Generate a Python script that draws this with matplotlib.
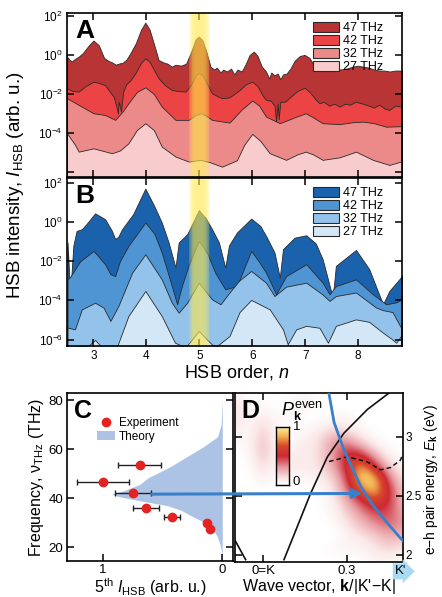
import numpy as np
import matplotlib
matplotlib.use("Agg")
import matplotlib.pyplot as plt
from matplotlib.patches import Patch
from matplotlib.lines import Line2D
from matplotlib.colors import LinearSegmentedColormap

plt.rcParams['font.family'] = ['Liberation Sans', 'DejaVu Sans']
plt.rcParams['mathtext.fontset'] = 'custom'
plt.rcParams['mathtext.rm'] = 'Liberation Sans'
plt.rcParams['mathtext.it'] = 'Liberation Sans:italic'
plt.rcParams['mathtext.bf'] = 'Liberation Sans:bold'
plt.rcParams['axes.linewidth'] = 1.2

# ---- panel A: HSB spectra, log10 intensity vs HSB order ----
a47_n = [2.50, 2.55, 2.59, 2.65, 2.72, 2.80, 2.90, 3.00, 3.10, 3.20, 3.28, 3.35, 3.42, 3.47, 3.55, 3.62,
         3.70, 3.80, 3.90, 3.98, 4.06, 4.15, 4.23, 4.32, 4.40, 4.48, 4.55, 4.65, 4.75, 4.85, 4.93, 4.99,
         5.06, 5.14, 5.21, 5.28, 5.33, 5.40, 5.45, 5.52, 5.60, 5.66, 5.72, 5.80, 5.87, 5.95, 6.03, 6.10,
         6.18, 6.26, 6.32, 6.36, 6.42, 6.48, 6.53, 6.58, 6.65, 6.72, 6.80, 6.90, 6.99, 7.08, 7.16, 7.24,
         7.35, 7.45, 7.55, 7.65, 7.78, 7.90, 8.00, 8.09, 8.20, 8.30, 8.40, 8.50, 8.60, 8.70, 8.83]
a47_v = [-0.09, -0.25, -0.34, -0.2, -0.09, 0.1, 0.45, 0.74, 0.5, -0.15, -0.3, -0.38, -0.5, -0.45, -0.4, -0.25,
         0.1, 0.6, 1.3, 1.66, 1.3, 0.5, -0.26, -0.38, -0.45, -0.6, -0.5, -0.55, -0.45, 0.2, 0.8, 0.94,
         0.75, 0.1, -0.6, -0.75, -0.65, -0.9, -0.75, -0.85, -0.7, -1.0, -0.75, -0.85, -0.5, 0.0, 0.17, -0.05,
         -0.6, -0.85, -1.2, -0.9, -1.05, -0.95, -1.25, -1.0, -0.95, -0.7, -0.3, -0.05, 0.0, -0.15, -0.5, -0.77,
         -0.8, -0.72, -0.8, -0.75, -0.7, -0.6, -0.55, -0.6, -0.65, -0.75, -0.8, -0.8, -0.85, -0.8, -0.8]

a42_n = [2.50, 2.60, 2.72, 2.85, 3.00, 3.12, 3.22, 3.30, 3.38, 3.43, 3.46, 3.48, 3.52, 3.56, 3.62, 3.70,
         3.80, 3.90, 3.98, 4.06, 4.15, 4.23, 4.35, 4.48, 4.60, 4.74, 4.85, 4.93, 4.99, 5.06, 5.15, 5.24,
         5.33, 5.43, 5.50, 5.57, 5.66, 5.76, 5.88, 6.00, 6.10, 6.20, 6.26, 6.35, 6.42, 6.45, 6.48, 6.50,
         6.53, 6.62, 6.70, 6.85, 6.99, 7.10, 7.20, 7.27, 7.35, 7.45, 7.55, 7.65, 7.75, 7.85, 7.95, 8.09,
         8.20, 8.30, 8.40, 8.50, 8.59, 8.70, 8.83]
a42_v = [-1.71, -1.85, -1.88, -1.6, -1.37, -1.45, -1.55, -1.85, -2.14, -2.6, -3.0, -2.4, -2.9, -1.9, -1.5, -1.3,
         -0.9, -0.4, -0.17, -0.35, -0.8, -1.2, -1.55, -1.8, -1.85, -1.88, -1.5, -1.05, -0.91, -1.05, -1.5, -1.97,
         -2.1, -2.22, -2.2, -2.17, -2.0, -1.8, -1.5, -1.37, -1.6, -2.1, -2.3, -2.35, -2.6, -3.4, -2.5, -3.3,
         -2.4, -2.4, -2.2, -1.85, -1.68, -1.95, -2.3, -2.48, -2.4, -2.6, -2.5, -2.65, -2.5, -2.55, -2.4, -2.5,
         -2.6, -2.7, -2.55, -2.75, -2.82, -2.6, -2.65]

a32_n = [2.50, 2.72, 3.00, 3.22, 3.41, 3.55, 3.66, 3.82, 3.98, 4.14, 4.29, 4.55, 4.80, 4.92, 5.02, 5.12,
         5.24, 5.57, 5.80, 6.00, 6.13, 6.26, 6.52, 6.80, 7.01, 7.15, 7.33, 7.65, 7.90, 8.09, 8.30, 8.53, 8.83]
a32_v = [-2.22, -2.56, -2.99, -3.08, -3.33, -2.9, -2.48, -1.9, -1.66, -2.0, -2.65, -3.33, -3.33, -3.1, -2.99, -3.1,
         -3.33, -3.47, -2.8, -2.34, -2.6, -3.16, -3.5, -3.2, -2.99, -3.2, -3.5, -3.55, -3.45, -3.42, -3.5, -3.68, -3.65]

a27_n = [2.50, 2.65, 2.72, 3.00, 3.35, 3.50, 3.66, 3.82, 3.98, 4.14, 4.29, 4.55, 4.80, 5.02, 5.20, 5.43,
         5.71, 5.85, 6.00, 6.15, 6.33, 6.64, 6.85, 7.01, 7.15, 7.33, 7.65, 7.96, 8.28, 8.59, 8.83]
a27_v = [-4.02, -4.6, -4.96, -4.79, -5.04, -4.9, -4.53, -3.85, -3.5, -3.85, -4.7, -5.21, -5.47, -5.38, -5.5, -5.73,
         -5.4, -4.6, -4.05, -4.4, -5.04, -5.38, -5.1, -4.96, -5.1, -5.38, -5.25, -4.96, -5.38, -5.64, -5.45]

# ---- panel B: theory spectra ----
b47_n = [2.51, 2.56, 2.62, 2.68, 2.78, 2.87, 3.03, 3.22, 3.35, 3.41, 3.47, 3.54, 3.75, 3.98, 4.15, 4.29,
         4.42, 4.55, 4.61, 4.77, 4.99, 5.12, 5.24, 5.37, 5.49, 5.56, 5.71, 5.98, 6.15, 6.26, 6.42, 6.52,
         6.58, 6.80, 7.02, 7.20, 7.33, 7.52, 7.58, 7.96, 8.21, 8.47, 8.59, 8.83]
b47_v = [-1.05, -3.69, -1.2, -0.46, -0.37, -0.1, 0.44, 0.14, -0.46, -0.88, -0.75, -0.37, 0.4, 1.7, 0.8, -0.03,
         -1.05, -2.33, -1.05, -0.63, 0.6, 0.2, -0.37, -1.05, -2.33, -1.2, -0.54, 0.17, -0.2, -0.71, -1.56, -2.84,
         -1.39, -0.8, -0.68, -1.1, -1.9, -3.86, -2.24, -1.43, -2.41, -4.2, -3.52, -2.76]

b42_n = [2.51, 2.56, 2.75, 3.00, 3.22, 3.32, 3.41, 3.50, 3.66, 3.98, 4.15, 4.29, 4.48, 4.58, 4.67, 4.80,
         4.99, 5.15, 5.30, 5.49, 5.71, 5.98, 6.12, 6.26, 6.45, 6.64, 7.02, 7.33, 7.46, 7.58, 7.96, 8.28,
         8.53, 8.72, 8.83]
b42_v = [-2.93, -2.8, -2.0, -1.48, -2.16, -2.67, -2.76, -2.0, -1.22, -0.03, -0.6, -1.56, -3.27, -4.2, -3.27, -2.2,
         -0.97, -1.6, -2.59, -3.44, -3.27, -1.48, -2.0, -2.59, -3.69, -2.76, -2.16, -3.1, -3.69, -3.27, -2.93, -3.69,
         -4.2, -4.1, -3.95]

b32_n = [2.51, 2.65, 2.78, 3.03, 3.19, 3.32, 3.47, 3.73, 3.98, 4.29, 4.48, 4.61, 4.77, 4.99, 5.24, 5.40,
         5.57, 5.75, 5.98, 6.26, 6.42, 6.64, 7.02, 7.33, 7.46, 7.58, 7.96, 8.34, 8.47, 8.65, 8.81]
b32_v = [-5.39, -5.48, -4.46, -4.12, -4.37, -5.05, -4.29, -2.59, -1.65, -2.93, -4.12, -4.63, -4.12, -3.1, -3.95, -4.2,
         -3.6, -3.0, -2.5, -3.1, -3.78, -3.3, -3.1, -3.7, -4.03, -3.78, -3.6, -4.37, -4.5, -4.6, -5.39]

b27_n = [2.51, 2.91, 3.03, 3.16, 3.44, 3.66, 3.98, 4.29, 4.54, 4.74, 4.89, 4.99, 5.18, 5.30, 5.57, 5.76,
         5.98, 6.33, 6.58, 6.67, 6.83, 7.02, 7.27, 7.43, 7.58, 7.96, 8.21, 8.47, 8.65, 8.72, 8.81]
b27_v = [-6.4, -6.3, -6.02, -6.4, -6.4, -4.8, -3.52, -4.8, -6.16, -6.4, -5.9, -5.56, -6.1, -6.4, -5.82, -4.6,
         -3.98, -4.46, -5.48, -6.24, -5.48, -5.3, -5.4, -6.16, -5.3, -4.97, -5.1, -5.65, -6.0, -6.16, -5.82]

freq_labels = ['47 THz', '42 THz', '32 THz', '27 THz']
red_colors = ['#b93434', '#ec4444', '#ec8a8a', '#f8cccc']
blue_colors = ['#1b62ad', '#4f94d3', '#93c2ea', '#d3e7f7']

# ---- panel C ----
exp_I = [0.69, 1.00, 0.75, 0.64, 0.42, 0.13, 0.10]
exp_f = [53.3, 46.5, 42.0, 36.0, 32.1, 29.8, 27.2]
exp_err_lo = [0.18, 0.22, 0.15, 0.11, 0.07, 0.02, 0.015]
exp_err_hi = [0.18, 0.22, 0.15, 0.11, 0.07, 0.02, 0.015]
theory_f = [14, 18, 21.3, 24, 26.7, 28.5, 30.8, 33, 34.9, 36.9, 38.9, 40.5, 41.6, 42.9, 45.6, 48.3,
            50, 52.7, 56.8, 60.9, 65, 70, 75, 80]
theory_I = [0, 0.005, 0.02, 0.04, 0.07, 0.12, 0.18, 0.27, 0.34, 0.46, 0.69, 0.86, 0.93, 0.83, 0.69, 0.62,
            0.55, 0.44, 0.30, 0.16, 0.04, 0.01, 0.005, 0]

# ---- panel D ----
pk_k = [-0.1, -0.05, 0, 0.05, 0.1, 0.15, 0.2, 0.25, 0.3, 0.35, 0.4, 0.45, 0.5]
pk_E = [3.35, 3.25, 3.15, 3.05, 2.95, 2.85, 2.75, 2.65, 2.55, 2.45, 2.35, 2.25, 2.15, 2.05, 1.95]
pk = [[0.05, 0, 0, 0, 0, 0.05, 0, 0, 0, 0, 0, 0, 0],
      [0.12, 0.03, 0.03, 0, 0.03, 0.05, 0, 0, 0, 0, 0, 0, 0],
      [0.12, 0.03, 0.1, 0.03, 0.03, 0, 0, 0.03, 0.05, 0, 0, 0, 0],
      [0.08, 0.03, 0.18, 0.03, 0, 0.03, 0.08, 0.15, 0.1, 0.05, 0, 0, 0],
      [0.03, 0.03, 0.22, 0.03, 0.03, 0.08, 0.12, 0.3, 0.35, 0.15, 0.05, 0, 0],
      [0, 0.03, 0.22, 0.03, 0.08, 0.08, 0.12, 0.3, 0.55, 0.5, 0.2, 0.05, 0],
      [0, 0, 0.15, 0.03, 0.12, 0.08, 0.12, 0.25, 0.55, 0.85, 0.5, 0.15, 0.05],
      [0, 0, 0.08, 0, 0.03, 0.03, 0.08, 0.15, 0.45, 1.0, 0.9, 0.35, 0.1],
      [0, 0, 0, 0, 0, 0, 0.03, 0.1, 0.35, 0.75, 0.95, 0.5, 0.15],
      [0, 0, 0, 0, 0, 0, 0, 0.05, 0.25, 0.45, 0.65, 0.5, 0.2],
      [0, 0, 0, 0, 0, 0, 0, 0.05, 0.15, 0.3, 0.45, 0.45, 0.25],
      [0, 0, 0, 0, 0, 0, 0, 0, 0.1, 0.2, 0.3, 0.4, 0.3],
      [0, 0, 0, 0, 0, 0, 0, 0, 0.05, 0.1, 0.15, 0.25, 0.2],
      [0, 0, 0, 0, 0, 0, 0, 0.03, 0.05, 0.05, 0.1, 0.15, 0.1],
      [0, 0, 0, 0, 0, 0, 0, 0, 0, 0, 0.05, 0.05, 0]]
band_k = [0.075, 0.1225, 0.17, 0.23, 0.289, 0.3725, 0.45]
band_E = [1.96, 2.24, 2.52, 2.83, 3.03, 3.23, 3.37]
band2_k = [-0.104, -0.062]
band2_E = [2.14, 1.96]
dash_k = [0.236, 0.30, 0.37, 0.42, 0.456, 0.49, 0.5]
dash_E = [2.79, 2.83, 2.79, 2.72, 2.74, 2.80, 2.85]
res_k = [0.233, 0.254, 0.289, 0.349, 0.396, 0.444, 0.492, 0.5]
res_E = [3.40, 3.12, 2.89, 2.58, 2.41, 2.27, 2.14, 2.12]

fig = plt.figure(figsize=(4.42, 5.97), dpi=100)
ax_a = fig.add_axes([0.1516, 0.7035, 0.758, 0.2747])
ax_b = fig.add_axes([0.1516, 0.4204, 0.758, 0.2814])
ax_c = fig.add_axes([0.1516, 0.0603, 0.3756, 0.2814])
ax_d = fig.add_axes([0.5317, 0.0586, 0.380, 0.2831])


def hsb_panel(ax, curves, colors, ylim, letter):
    for (n, v), c in zip(curves, colors):
        ax.fill_between(n, 10.0 ** np.array(v), 1e-9, facecolor=c, edgecolor='#2a2a2a', linewidth=0.6)
    # yellow highlight on the 5th order
    for i in range(30):
        x0 = 4.8 + i * 0.4 / 30
        xc = x0 + 0.2 / 30
        al = 0.62 * max(0.0, 1 - ((xc - 5.0) / 0.2) ** 4)
        ax.axvspan(x0, x0 + 0.4 / 30, color='#ffe94a', alpha=al, lw=0, zorder=3)
    ax.set_yscale('log')
    ax.set_xlim(2.5, 8.83)
    ax.set_ylim(10 ** ylim[0], 10 ** ylim[1])
    ax.set_xticks([3, 4, 5, 6, 7, 8])
    ax.set_yticks([1e2, 1e0, 1e-2, 1e-4, 1e-6])
    ax.yaxis.set_minor_locator(plt.NullLocator())
    ax.tick_params(direction='in', length=5, width=1.1, top=True, right=True, labelsize=8.5, pad=3)
    ax.text(0.025, 0.965, letter, transform=ax.transAxes, va='top', ha='left',
            fontsize=19, fontweight='bold', zorder=6)
    handles = [Patch(facecolor=c, edgecolor='#2a2a2a', linewidth=0.8) for c in colors]
    leg = ax.legend(handles, freq_labels, loc='upper right', bbox_to_anchor=(0.97, 1.0),
                    frameon=False, fontsize=9, handlelength=2.1, handleheight=0.85,
                    labelspacing=0.05, handletextpad=0.3, borderpad=0.2)
    leg.set_zorder(7)
    for sp in ax.spines.values():
        sp.set_zorder(8)


hsb_panel(ax_a, [(a47_n, a47_v), (a42_n, a42_v), (a32_n, a32_v), (a27_n, a27_v)],
          red_colors, (-6.26, 2.15), 'A')
ax_a.set_yticklabels(['10$^{2}$', '10$^{0}$', '10$^{-2}$', '10$^{-4}$', ''])
ax_a.set_xticklabels([])

hsb_panel(ax_b, [(b47_n, b47_v), (b42_n, b42_v), (b32_n, b32_v), (b27_n, b27_v)],
          blue_colors, (-6.33, 2.24), 'B')
ax_b.set_yticklabels(['10$^{2}$', '10$^{0}$', '10$^{-2}$', '10$^{-4}$', '10$^{-6}$'])

fig.text(0.036, 0.69, 'HSB intensity, $I_{\\rm HSB}$ (arb. u.)', rotation=90,
         ha='center', va='center', fontsize=13.5)
fig.text(0.536, 0.376, 'HSB order, $n$', ha='center', va='center', fontsize=13)

# ---- C ----
ax_c.fill_betweenx(theory_f, 0, theory_I, color='#adc3e6', lw=0, zorder=1)
ax_c.errorbar(exp_I, exp_f, xerr=[exp_err_lo, exp_err_hi], fmt='o', color='#e42222',
              ms=6, ecolor='#222222', elinewidth=1.0, capsize=2.5, capthick=1.0, zorder=3)
ax_c.set_xlim(1.30, -0.09)
ax_c.set_ylim(14.3, 82.9)
ax_c.set_xticks([1, 0])
ax_c.set_xticklabels(['1', '0'])
ax_c.set_yticks([20, 40, 60, 80])
ax_c.tick_params(direction='in', length=5, width=1.1, right=True, labelsize=9.5, pad=2.5)
ax_c.text(0.04, 0.965, 'C', transform=ax_c.transAxes, va='top', ha='left',
          fontsize=18, fontweight='bold')
leg_c = ax_c.legend([Line2D([], [], marker='o', ls='none', color='#e42222', ms=6),
                     Patch(facecolor='#adc3e6', edgecolor='none')],
                    ['Experiment', 'Theory'], loc='upper left', bbox_to_anchor=(0.14, 0.9),
                    frameon=False, fontsize=8.5, handlelength=1.5, handletextpad=0.3,
                    labelspacing=0.15, borderpad=0.1)
ax_c.set_ylabel('Frequency, ν$_{\\rm THz}$ (THz)', fontsize=11.5, labelpad=2)
ax_c.set_xlabel('5$^{\\rm th}$ $I_{\\rm HSB}$ (arb. u.)', fontsize=11.5, labelpad=0)

# ---- D ----
cmap = LinearSegmentedColormap.from_list('pk', [(0, '#ffffff'), (0.1, '#fbe8e8'), (0.3, '#e89aa0'),
                                                (0.5, '#cc2a34'), (0.68, '#d9482c'),
                                                (0.85, '#f2b454'), (1, '#fbeea0')])
ax_d.imshow(np.array(pk), extent=[pk_k[0] - 0.025, pk_k[-1] + 0.025, pk_E[-1] - 0.05, pk_E[0] + 0.05],
            origin='upper', aspect='auto', cmap=cmap, vmin=0, vmax=1, interpolation='bicubic', zorder=0)
ax_d.plot(band_k, band_E, color='#111111', lw=1.2, zorder=2)
ax_d.plot(band2_k, band2_E, color='#111111', lw=1.2, zorder=2)
ax_d.plot(dash_k, dash_E, color='#111111', lw=1.1, ls=(0, (3, 2)), zorder=2)
ax_d.plot(res_k, res_E, color='#3a80c8', lw=2.0, zorder=3)
ax_d.set_xlim(-0.1, 0.5)
ax_d.set_ylim(1.94, 3.37)
ax_d.set_xticks([0, 0.3])
ax_d.set_xticklabels(['0=K', '0.3'])
ax_d.set_yticks([2, 2.5, 3])
ax_d.set_yticklabels(['2', '2.5', '3'])
ax_d.yaxis.tick_right()
ax_d.tick_params(direction='in', length=5, width=1.1, left=True, right=True, top=True,
                 labelsize=9.5, pad=2.5)
ax_d.tick_params(axis='y', labelsize=8.5, pad=1.5)
ax_d.set_xlabel("Wave vector, $\\mathbf{k}$/|K'\u2212K|", fontsize=11.5, labelpad=0)
fig.text(0.976, 0.196, 'e\u2212h pair energy, $E_{\\mathbf{k}}$ (eV)', rotation=90,
         ha='center', va='center', fontsize=10)
ax_d.text(0.04, 0.965, 'D', transform=ax_d.transAxes, va='top', ha='left',
          fontsize=18, fontweight='bold')
ax_d.annotate('', xy=(0.355, 2.52), xycoords='data', xytext=(0.59, 41.6), textcoords=ax_c.transData,
              arrowprops=dict(arrowstyle='-|>', color='#3a80c8', lw=2.2, mutation_scale=14,
                              shrinkA=0, shrinkB=0),
              annotation_clip=False, zorder=5)
fig.text(0.906, 0.043, "K'", ha='center', va='center', fontsize=9.5,
         bbox=dict(boxstyle='rarrow,pad=0.15', fc='#a9daf2', ec='none'))

cax = fig.add_axes([0.624, 0.1876, 0.030, 0.097])
cgrad = np.linspace(1, 0, 100).reshape(-1, 1)
cax.imshow(cgrad, aspect='auto', cmap=cmap, vmin=0, vmax=1, extent=[0, 1, 0, 1])
cax.set_xticks([])
cax.set_yticks([])
for sp in cax.spines.values():
    sp.set_linewidth(1.0)
fig.text(0.662, 0.285, '1', ha='left', va='center', fontsize=9.5)
fig.text(0.662, 0.192, '0', ha='left', va='center', fontsize=9.5)
fig.text(0.682, 0.312, '$P_{\\mathbf{k}}^{\\rm even}$', ha='center', va='center', fontsize=13)

fig.savefig('out.png', dpi=100)
